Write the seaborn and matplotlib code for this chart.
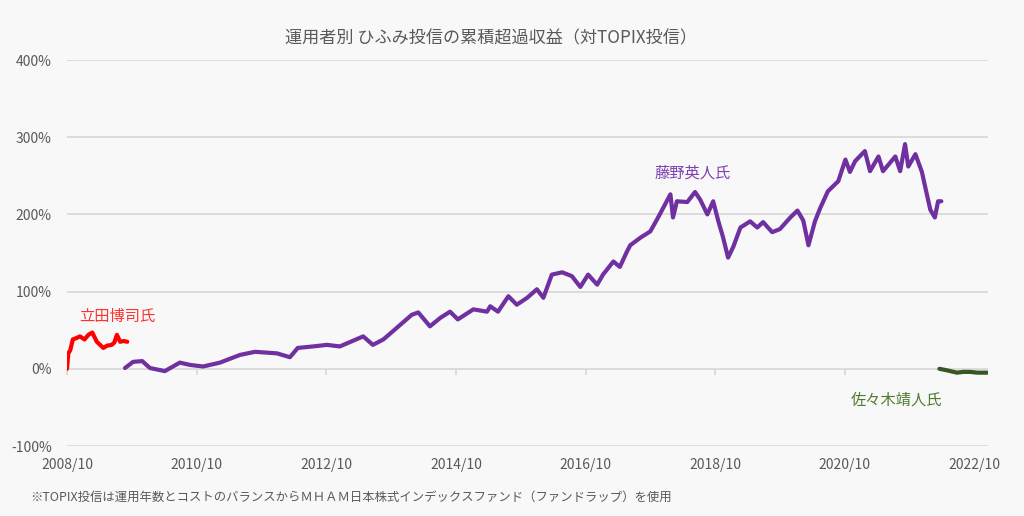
import numpy as np
import pandas as pd
import matplotlib
matplotlib.use("Agg")
import matplotlib.pyplot as plt
import seaborn as sns

# ---- data (decimal year, cumulative excess return %) ----
tatsuta_t = [2008.75, 2008.77, 2008.80, 2008.84, 2008.90, 2008.95, 2009.02, 2009.08, 2009.14,
             2009.21, 2009.26, 2009.31, 2009.37, 2009.44, 2009.48, 2009.52, 2009.57, 2009.62, 2009.68]
tatsuta_v = [0, 20, 24, 38, 40, 42, 38, 44, 47, 35, 31, 27, 30, 31, 34, 44, 35, 36, 35]

fujino_t = [2009.645, 2009.77, 2009.91, 2010.03, 2010.26, 2010.49, 2010.65, 2010.85, 2011.11,
            2011.42, 2011.65, 2011.99, 2012.19, 2012.31, 2012.55, 2012.76, 2012.96, 2013.32,
            2013.47, 2013.63, 2013.81, 2014.07, 2014.17, 2014.35, 2014.51, 2014.66, 2014.78,
            2015.02, 2015.23, 2015.28, 2015.40, 2015.56, 2015.69, 2015.85, 2016.00, 2016.10,
            2016.23, 2016.39, 2016.54, 2016.67, 2016.79, 2016.93, 2017.02, 2017.18, 2017.28,
            2017.39, 2017.44, 2017.60, 2017.75, 2017.87, 2018.06, 2018.10, 2018.16, 2018.32, 2018.44,
            2018.52, 2018.63, 2018.72, 2018.80, 2018.87, 2018.95, 2019.03, 2019.14, 2019.29,
            2019.40, 2019.49, 2019.63, 2019.75, 2019.91, 2020.02, 2020.11, 2020.19, 2020.29,
            2020.37, 2020.49, 2020.65, 2020.76, 2020.83, 2020.91, 2021.06, 2021.14, 2021.27,
            2021.34, 2021.53, 2021.605, 2021.68, 2021.73, 2021.84, 2021.94, 2021.99, 2022.07,
            2022.14, 2022.19, 2022.24]
fujino_v = [1, 9, 10, 1, -3, 8, 5, 3, 8,
            18, 22, 20, 15, 27, 29, 31, 29, 42,
            31, 38, 51, 70, 73, 55, 66, 74, 64,
            77, 74, 81, 74, 94, 83, 92, 103, 92,
            122, 125, 120, 106, 122, 109, 122, 139, 132,
            152, 160, 170, 178, 196, 226, 196, 217, 216, 229,
            219, 200, 217, 191, 171, 144, 158, 183, 191,
            183, 190, 177, 181, 196, 205, 192, 160, 191,
            208, 230, 243, 271, 255, 269, 282, 256, 275,
            256, 275, 256, 291, 262, 278, 255, 236, 206,
            196, 217, 217]

sasaki_t = [2022.21, 2022.33, 2022.48, 2022.58, 2022.68, 2022.80, 2022.95]
sasaki_v = [0, -2, -5, -4, -4, -5, -5]

x_ticks = [2008.75, 2010.75, 2012.75, 2014.75, 2016.75, 2018.75, 2020.75, 2022.75]
x_labels = ["2008/10", "2010/10", "2012/10", "2014/10", "2016/10", "2018/10", "2020/10", "2022/10"]
y_ticks = [-100, 0, 100, 200, 300, 400]
y_labels = ["-100%", "0%", "100%", "200%", "300%", "400%"]

title = "運用者別 ひふみ投信の累積超過収益（対TOPIX投信）"
note = "※TOPIX投信は運用年数とコストのバランスからＭＨＡＭ日本株式インデックスファンド（ファンドラップ）を使用"

# ---- style ----
sns.set_theme(style="white")
plt.rcParams['font.family'] = ['Noto Sans CJK JP', 'DejaVu Sans']

bg = "#f8f8f8"
grid_c = "#d9d9d9"
text_c = "#595959"
red, purple, green = "#ff0000", "#7030a0", "#375623"

fig = plt.figure(figsize=(10.24, 5.16), dpi=100, facecolor=bg)
ax = fig.add_axes([67 / 1024, 1 - 446 / 516, (988 - 67) / 1024, (446 - 60) / 516])
ax.set_facecolor(bg)

df_r = pd.DataFrame({"t": tatsuta_t, "v": tatsuta_v})
df_p = pd.DataFrame({"t": fujino_t, "v": fujino_v})
df_g = pd.DataFrame({"t": sasaki_t, "v": sasaki_v})

for d, c in [(df_r, red), (df_p, purple), (df_g, green)]:
    sns.lineplot(data=d, x="t", y="v", ax=ax, color=c, linewidth=3.0, zorder=3,
                 solid_joinstyle="round", solid_capstyle="round")

ax.set_xlim(2008.75, 2022.96)
ax.set_ylim(-100, 400)
ax.set_yticks(y_ticks)
ax.set_yticklabels(y_labels)
ax.set_xticks(x_ticks)
ax.set_xticklabels(x_labels)
ax.grid(axis="y", color=grid_c, linewidth=1.3)
ax.grid(axis="x", visible=False)
for s in ax.spines.values():
    s.set_visible(False)
ax.tick_params(axis="y", length=0, pad=11, labelsize=10, labelcolor=text_c)
ax.tick_params(axis="x", length=0, pad=9, labelsize=10, labelcolor=text_c)
ax.set_xlabel("")
ax.set_ylabel("")

# tick marks on the 0% line
sec = ax.secondary_xaxis(0.2)
sec.set_xticks(x_ticks)
sec.set_xticklabels([])
sec.tick_params(axis="x", direction="out", length=4, width=1.3, color=grid_c)
sec.spines["bottom"].set_visible(False)

# series labels
ax.text(2009.53, 68, "立田博司氏", color="#ff3030", fontsize=11, ha="center", va="center")
ax.text(2018.40, 254, "藤野英人氏", color="#8040b0", fontsize=11, ha="center", va="center")
ax.text(2021.55, -40, "佐々木靖人氏", color="#4e7a2e", fontsize=11, ha="center", va="center")

fig.text(491 / 1024, 1 - 38 / 516, title, ha="center", va="center", fontsize=12.3, color=text_c)
fig.text(30 / 1024, 1 - 497 / 516, note, ha="left", va="center", fontsize=8.9, color=text_c)

fig.savefig("out.png", dpi=100, facecolor=bg)
